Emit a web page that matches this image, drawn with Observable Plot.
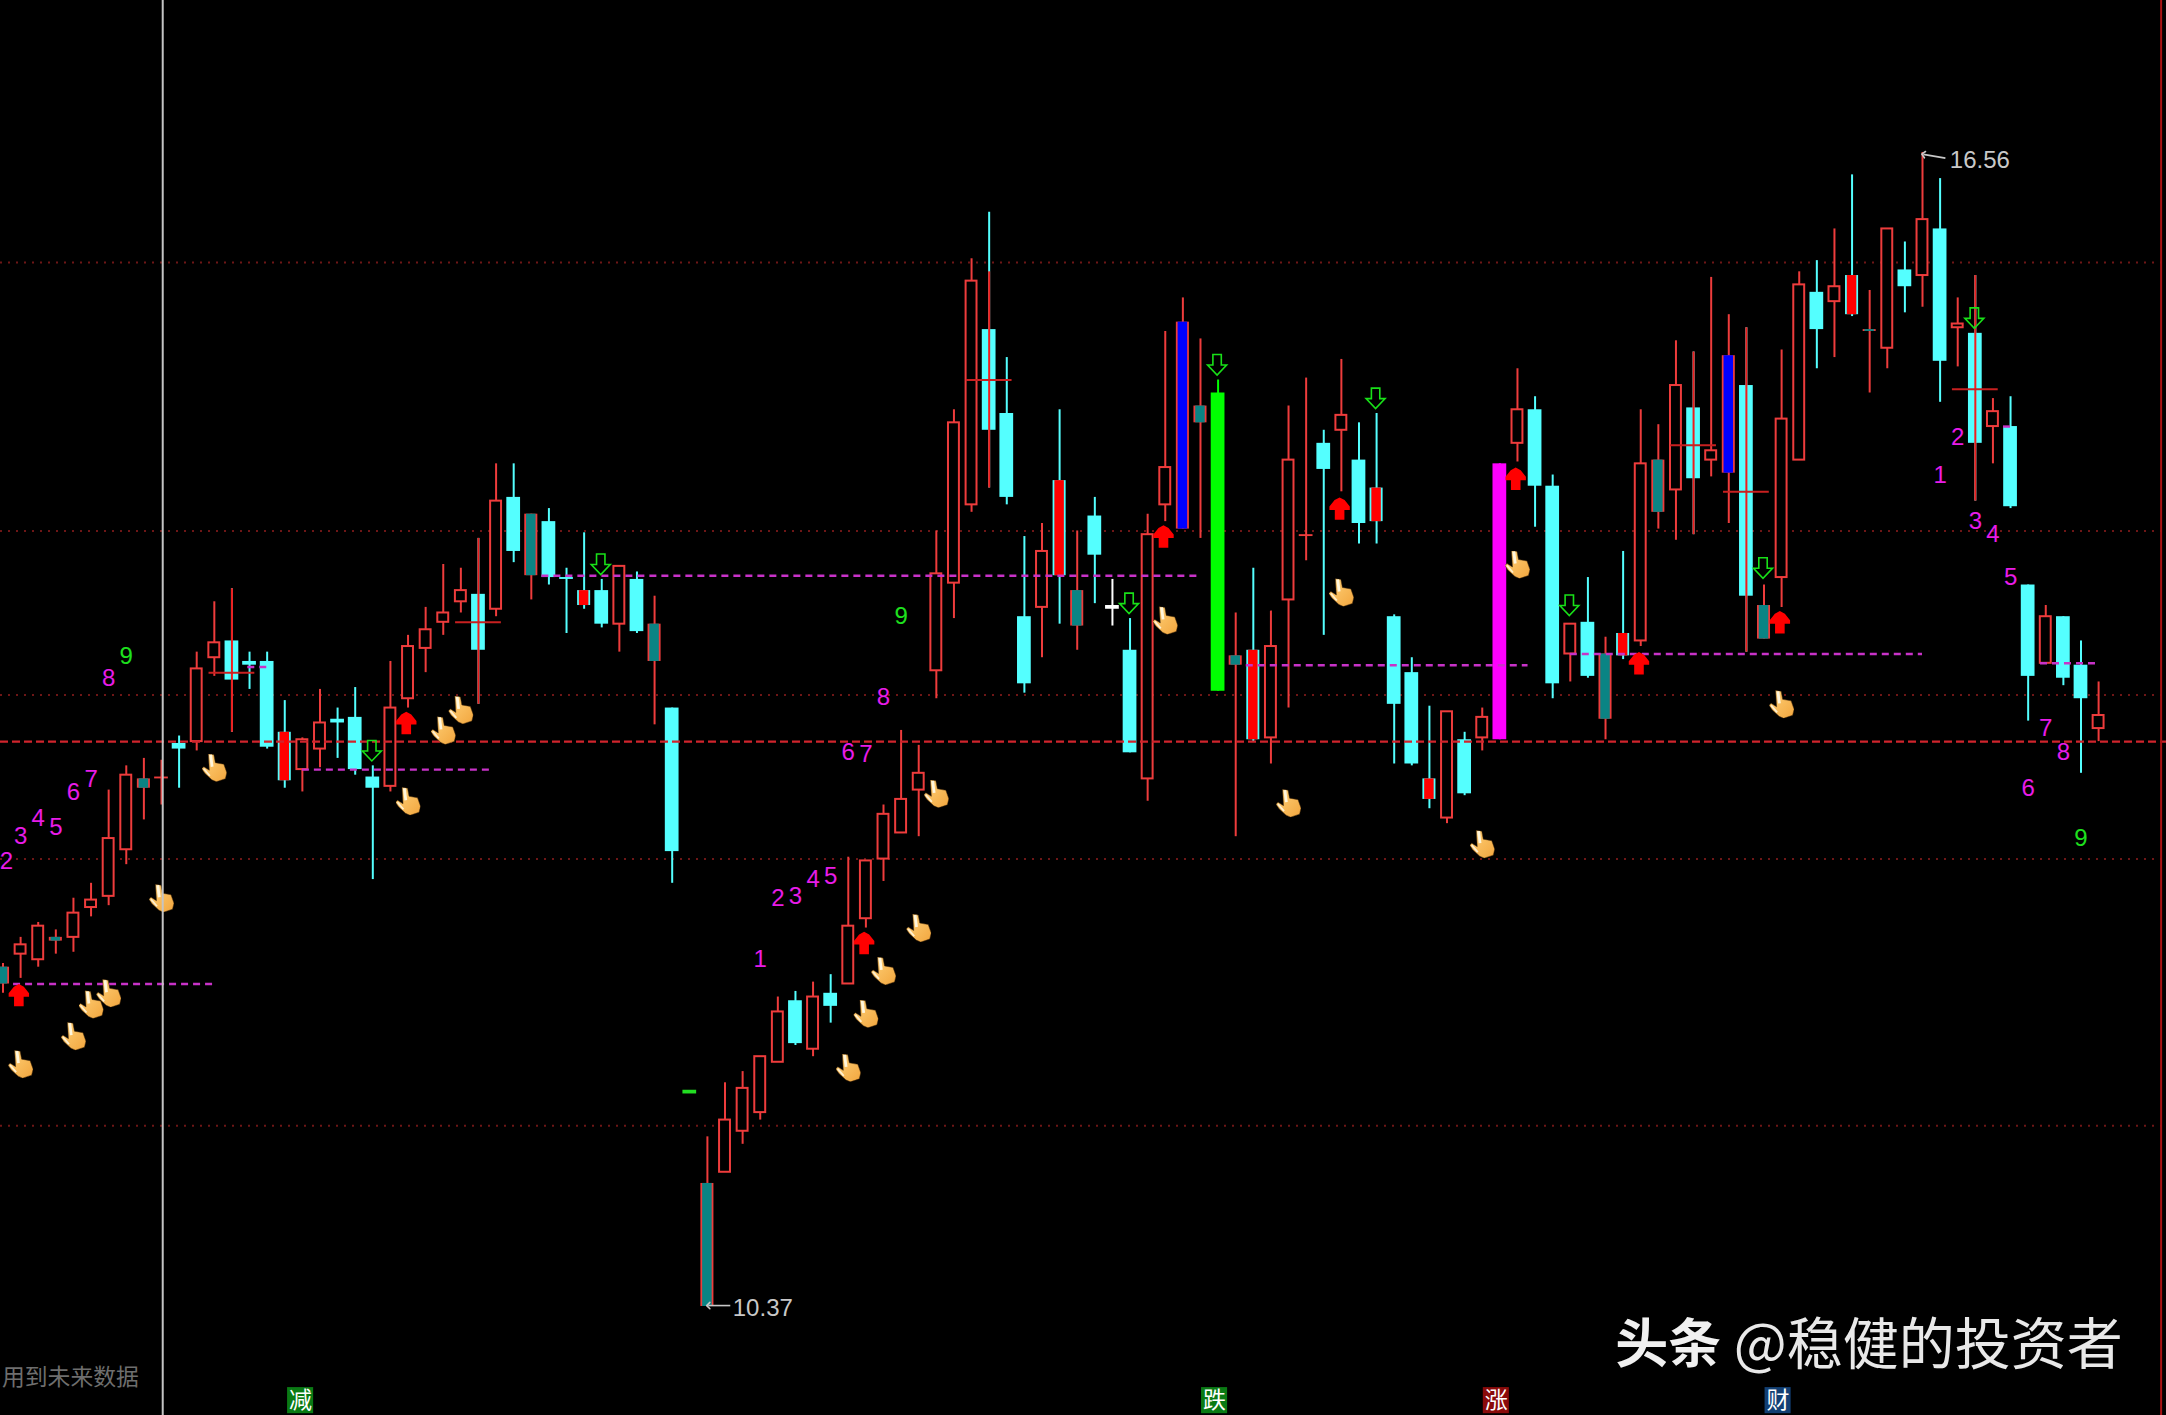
<!DOCTYPE html>
<html><head><meta charset="utf-8">
<style>html,body{margin:0;padding:0;background:#000}svg{display:block}</style>
<script src="https://cdn.jsdelivr.net/npm/d3@7"></script>
<script src="https://cdn.jsdelivr.net/npm/@observablehq/plot@0.6"></script>
</head><body>
<script>
// ---- candle data, one entry per session ----
const kinds = ("thhthhhhtd"+"chhcccrhhc"+"cchhhhhchc"+"tccrchctce"+"thhhhchchh"+"hhhhhhccch"+"rtcwchhbtg"+"trhhdchcrc"+"crhchmhcch"+"ctrhthchbc"+"thhchrthch"+"chchcchcch").split("");
const high = [12.21,12.35,12.43,12.39,12.56,12.64,13.14,13.27,13.31,13.30,
13.43,13.88,14.15,14.22,13.88,13.88,13.62,13.42,13.68,13.58,
13.69,13.27,13.83,13.97,14.12,14.35,14.33,14.49,14.89,14.89,
14.62,14.65,14.33,14.52,14.27,14.34,14.31,14.18,13.58,11.52,
11.28,11.57,11.63,11.71,12.03,12.06,12.11,12.15,12.78,12.76,
13.06,13.46,13.38,14.53,15.18,15.99,16.24,15.46,14.50,14.57,
15.18,14.53,14.71,14.27,14.06,14.62,15.60,15.78,15.56,15.34,
14.09,14.33,14.10,15.20,15.35,15.07,15.45,15.11,15.16,14.08,
13.85,13.59,13.56,13.45,13.58,14.89,15.40,15.25,14.83,14.03,
14.28,13.96,14.42,15.18,15.10,15.55,15.49,15.89,15.69,15.62,
14.24,15.50,15.92,15.98,16.15,16.44,15.82,16.15,16.08,16.56,
16.42,15.78,15.90,15.24,15.25,14.24,14.13,14.07,13.94,13.72];
const bodyTop = [12.19,12.31,12.41,12.35,12.48,12.55,12.88,13.22,13.20,13.21,
13.39,13.79,13.93,13.94,13.83,13.83,13.45,13.41,13.50,13.52,
13.53,13.21,13.58,13.91,14.00,14.09,14.21,14.19,14.69,14.71,
14.62,14.58,14.28,14.21,14.21,14.34,14.27,14.03,13.58,11.53,
11.03,11.37,11.54,11.71,11.95,12.01,12.03,12.05,12.41,12.76,
13.01,13.09,13.23,14.30,15.11,15.87,15.61,15.16,14.07,14.42,
14.80,14.21,14.61,14.13,13.89,14.51,14.87,15.65,15.20,15.27,
13.86,13.89,13.91,14.91,14.51,15.00,15.15,14.91,14.76,14.07,
13.77,13.20,13.56,13.41,13.53,14.89,15.18,15.18,14.77,14.03,
14.04,13.87,13.98,14.89,14.91,15.31,15.19,14.96,15.47,15.31,
14.13,15.13,15.85,15.81,15.84,15.90,15.61,16.15,15.93,16.20,
16.15,15.64,15.59,15.17,15.09,14.24,14.07,14.07,13.81,13.54];
const bodyBot = [12.10,12.26,12.23,12.33,12.35,12.51,12.57,12.82,13.15,13.20,
13.36,13.40,13.85,13.73,13.81,13.37,13.19,13.25,13.36,13.50,
13.25,13.15,13.16,13.63,13.90,14.04,14.15,13.89,14.11,14.42,
14.29,14.28,14.27,14.13,14.03,14.03,13.99,13.83,12.81,11.51,
10.37,11.09,11.31,11.41,11.68,11.78,11.75,11.98,12.10,12.45,
12.77,12.91,13.14,13.78,14.25,14.67,15.07,14.71,13.71,14.12,
14.29,14.02,14.40,14.11,13.34,13.20,14.67,14.54,15.11,13.67,
13.81,13.41,13.42,14.16,14.50,14.86,15.07,14.57,14.58,13.60,
13.28,13.09,12.99,13.12,13.42,13.41,15.00,14.77,13.71,13.87,
13.75,13.52,13.86,13.94,14.63,14.75,14.81,14.91,14.84,14.18,
13.95,14.28,14.91,15.61,15.76,15.69,15.60,15.51,15.84,15.90,
15.44,15.62,15.00,15.09,14.66,13.75,13.82,13.74,13.63,13.47];
const low = [12.05,12.13,12.19,12.26,12.27,12.46,12.52,12.74,12.98,13.06,
13.15,13.35,13.75,13.45,13.68,13.36,13.15,13.13,13.26,13.31,
13.22,12.66,13.13,13.58,13.77,13.97,14.09,13.60,14.07,14.36,
14.16,14.24,13.98,14.11,14.01,13.88,13.98,13.49,12.64,11.51,
10.37,11.09,11.24,11.37,11.68,11.77,11.71,11.89,12.10,12.40,
12.65,12.91,12.89,13.63,14.06,14.63,14.76,14.67,13.66,13.85,
14.03,13.89,14.14,14.02,13.34,13.08,14.58,14.54,14.49,13.67,
12.89,13.40,13.28,13.58,14.37,13.97,14.74,14.46,14.46,13.28,
13.27,13.04,12.96,13.11,13.35,13.41,14.90,14.55,13.63,13.72,
13.74,13.41,13.84,13.91,14.54,14.48,14.51,14.82,14.57,13.88,
13.95,14.12,14.91,15.40,15.46,15.68,15.27,15.40,15.70,15.73,
15.22,15.41,14.69,14.89,14.65,13.51,13.82,13.70,13.23,13.40];

// ---- overlays ----
const gridLevels = [15.97,14.53,13.65,12.77,11.34];
const keyLevel = 13.40;
const crossBars = [13,27,56,96,99,112];
const crossLevel = [13.77,14.04,15.34,14.99,14.74,15.29];
const crossHigh = [14.22,14.49,15.92,15.49,15.62,15.90];
const crossLow = [13.45,13.60,14.76,14.51,13.88,14.69];
const dashFrom = [0.6,17,30.6,13.9,70.6,89,115.7,113.6];
const dashTo = [12,27.8,67.8,15,86.6,109,119,114];
const dashLevel = [12.10,13.25,14.29,13.80,13.81,13.87,13.82,15.09];
const handBars = [1,4,5,6,9,12,23,25,26,48,49,50,52,53,66,73,76,84,86,101];
const handLevel = [11.67,11.82,11.99,12.05,12.56,13.26,13.08,13.46,13.57,11.65,11.94,12.17,12.40,13.12,14.05,13.07,14.20,12.85,14.35,13.60];
const upBars = [0.9,22.9,48.9,65.9,75.9,85.9,92.9,100.9];
const upLevel = [12.04,13.50,12.32,14.50,14.65,14.81,13.82,14.04];
const downBars = [21,34,64,69,78,89,100,112];
const downLevel = [13.35,14.35,14.14,15.42,15.24,14.13,14.33,15.67];
const countBars = [0.2,1,2,3,4,5,6,7, 43,44,45,46,47,48,49,50,51, 110,111,112,113,114,115,116,117,118];
const countText = ["2","3","4","5","6","7","8","9", "1","2","3","4","5","6","7","8","9", "1","2","3","4","5","6","7","8","9"];
const countLevel = [12.76,12.89,12.99,12.94,13.13,13.20,13.74,13.86, 12.23,12.56,12.57,12.66,12.68,13.34,13.33,13.64,14.07, 14.83,15.03,14.58,14.51,14.28,13.15,13.47,13.34,12.88];
const badgeBars = [16.9,68.8,84.8,100.8];
const badgeText = ["减","跌","涨","财"];
const badgeFill = ["#0a7a14","#0a7a14","#8a0a0a","#123f73"];
const cursorBar = 9.07, frameBar = 122.55;

const bars = kinds.map((k,i)=>({i,k,high:high[i],top:bodyTop[i],bot:bodyBot[i],low:low[i]}));
const zip = (a,f)=>a.map((_,i)=>f(i));
const crosses = zip(crossBars,i=>({i:crossBars[i],y:crossLevel[i],hi:crossHigh[i],lo:crossLow[i]}));
const dashes = zip(dashFrom,i=>({a:dashFrom[i],b:dashTo[i],y:dashLevel[i]}));
const hands = zip(handBars,i=>({i:handBars[i],y:handLevel[i]}));
const ups = zip(upBars,i=>({i:upBars[i],y:upLevel[i]}));
const downs = zip(downBars,i=>({i:downBars[i],y:downLevel[i]}));
const counts = zip(countBars,i=>({i:countBars[i],t:countText[i],y:countLevel[i]}));
const badges = zip(badgeBars,i=>({i:badgeBars[i],t:badgeText[i],f:badgeFill[i]}));

const RED="#ee3c3c", CYAN="#54ffff", TEAL="#0a8484", GRN="#00ff00", MAG="#ff00ff";
const wickColor = {h:RED,c:CYAN,t:RED,r:CYAN,b:RED,g:GRN,m:MAG,d:RED,w:"#ffffff",e:"#22dd22"};
const solidColor = {c:CYAN,g:GRN,m:MAG,d:RED,w:"#ffffff",e:"#22dd22"};
const coreColor = {t:TEAL,r:"#ff0000",b:"#0000ff"};
const sideColor = {t:RED,r:CYAN,b:RED};

const handSvg = `<svg xmlns="http://www.w3.org/2000/svg" viewBox="0 0 25 28"><defs><linearGradient id="g" x1="0" y1="0" x2="1" y2="1"><stop offset="0" stop-color="#ffd27a"/><stop offset="1" stop-color="#f2a63e"/></linearGradient></defs><path d="M6.5 0 L12 1 L13.5 9 L22 10.5 L25 19 L23.5 25 L14.5 28 L10 26 L3 19.5 L0 15 L2 13 L7.5 16.5 Z" fill="url(#g)" stroke="#4a2c0a" stroke-width=".5"/><path d="M8.8 1 L10.3 13" stroke="#fff6dc" stroke-width="2.8" fill="none"/><path d="M2 15 L8 22" stroke="#fff0d0" stroke-width="1.8" fill="none"/></svg>`;
const handSrc = "data:image/svg+xml;charset=utf-8," + encodeURIComponent(handSvg);

const poly = pts => ({draw(c,size){const s=Math.sqrt(size/Math.PI);pts.forEach(([x,y],n)=>n?c.lineTo(x*s,y*s):c.moveTo(x*s,y*s));c.closePath();}});
const upArrow = poly([[0,-1.12],[.5,-.85],[1.02,-.2],[1.02,.15],[.48,.15],[.48,1.12],[-.48,1.12],[-.48,.15],[-1.02,.15],[-1.02,-.2],[-.5,-.85]]);
const downArrow = poly([[-.42,-1.05],[.42,-1.05],[.42,0],[.95,0],[0,1],[-.95,0],[-.42,0]]);

const CJK = "'Noto Sans CJK SC','Noto Sans',sans-serif";
const chart = Plot.plot({
  width:2166, height:1415, margin:0,
  style:{background:"#000"},
  x:{type:"linear",domain:[0,119],range:[2.5,2098.1],axis:null},
  y:{type:"linear",domain:[10.37,16.56],range:[1306,152],axis:null},
  color:{type:"identity"},
  marks:[
    Plot.ruleY(gridLevels,{stroke:"#6e1616",strokeWidth:2,strokeDasharray:"2 6"}),
    Plot.ruleX(bars.filter(d=>d.k!=="e"),{x:"i",y1:"high",y2:"low",stroke:d=>wickColor[d.k],strokeWidth:2}),
    Plot.rect(bars.filter(d=>d.k==="h"),{x1:d=>d.i-.31,x2:d=>d.i+.31,y1:"top",y2:"bot",fill:"#000",stroke:RED,strokeWidth:2}),
    Plot.rect(bars.filter(d=>solidColor[d.k]),{x1:d=>d.i-.39,x2:d=>d.i+.39,y1:"top",y2:"bot",fill:d=>solidColor[d.k]}),
    Plot.rect(bars.filter(d=>coreColor[d.k]),{x1:d=>d.i-.37,x2:d=>d.i+.37,y1:"top",y2:"bot",fill:d=>sideColor[d.k]}),
    Plot.rect(bars.filter(d=>coreColor[d.k]),{x1:d=>d.i-.27,x2:d=>d.i+.27,y1:"top",y2:"bot",fill:d=>coreColor[d.k]}),
    Plot.ruleX(crosses,{x:"i",y1:"hi",y2:"lo",stroke:"#f01c1c",strokeWidth:2}),
    Plot.ruleY(crosses,{y:"y",x1:d=>d.i-1.3,x2:d=>d.i+1.3,stroke:"#c82020",strokeWidth:2}),
    Plot.ruleY([keyLevel],{stroke:"#d0242c",strokeWidth:2.4,strokeDasharray:"8 4"}),
    Plot.ruleY(dashes,{y:"y",x1:"a",x2:"b",stroke:"#c832c8",strokeWidth:2.4,strokeDasharray:"7 5"}),
    Plot.dot(ups,{x:"i",y:"y",r:10,symbol:upArrow,fill:"#ff0000",stroke:"none"}),
    Plot.dot(downs,{x:"i",y:"y",dx:-1,r:10,symbol:downArrow,fill:"none",stroke:"#18e018",strokeWidth:1.6}),
    Plot.image(hands,{x:"i",y:"y",src:()=>handSrc,width:25,height:28}),
    Plot.ruleX([cursorBar],{stroke:"#c4c4c4",strokeWidth:2}),
    Plot.ruleX([frameBar],{stroke:"#a81414",strokeWidth:2}),
    Plot.text(counts,{x:"i",y:"y",text:"t",fill:d=>d.t==="9"?"#1ee01e":"#e81ce8",fontSize:24,fontFamily:"'Liberation Sans',sans-serif"}),
    Plot.link([{a:40.05,b:41.3,y1:10.375,y2:10.375},{a:109.05,b:110.3,y1:16.55,y2:16.53}],{x1:"a",x2:"b",y1:"y1",y2:"y2",stroke:"#c8c8c8",strokeWidth:1.6,markerStart:"arrow-reverse"}),
    Plot.text([{x:41.44,y:10.36,t:"10.37"},{x:110.55,y:16.52,t:"16.56"}],{x:"x",y:"y",text:"t",textAnchor:"start",fill:"#c8c8c8",fontSize:24,fontFamily:"'Liberation Sans',sans-serif"}),
    Plot.rect(badges,{x1:d=>d.i-.74,x2:d=>d.i+.74,y1:9.935,y2:9.795,fill:"f"}),
    Plot.text(badges,{x:"i",y:9.865,text:"t",fill:"#ffffff",fontSize:23,fontFamily:CJK}),
    Plot.text([{x:7.71,y:9.99,t:"用到未来数据"}],{x:"x",y:"y",text:"t",textAnchor:"end",fill:"#6e6e6e",fontSize:22.8,fontFamily:CJK}),
    Plot.text([{x:91.55,y:10.16,t:"头条"}],{x:"x",y:"y",text:"t",textAnchor:"start",fill:"#f0f0f0",fontSize:53,fontWeight:700,fontFamily:CJK}),
    Plot.text([{x:120.37,y:10.16,t:"@稳健的投资者"}],{x:"x",y:"y",text:"t",textAnchor:"end",fill:"#e8e8e8",fontSize:56,fontFamily:CJK})
  ]
});
document.body.appendChild(chart);
</script>
</body></html>
